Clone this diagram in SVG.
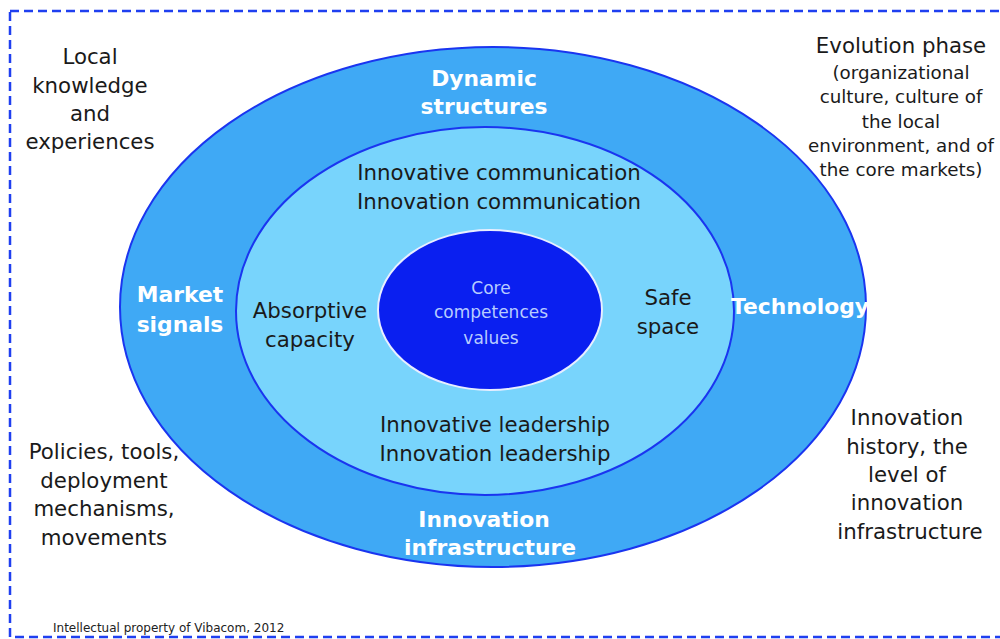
<svg xmlns="http://www.w3.org/2000/svg" width="1000" height="639" viewBox="0 0 1000 639">
<style>
.t{font-family:"DejaVu Sans",Verdana,sans-serif;font-size:21.3px;fill:#1a1a1a;text-anchor:middle}
.s{font-size:18.3px}
.w{font-family:"DejaVu Sans",Verdana,sans-serif;font-size:21.8px;font-weight:bold;fill:#ffffff;text-anchor:middle}
.c{font-family:"DejaVu Sans",Verdana,sans-serif;font-size:17px;fill:#b8ccff;text-anchor:middle}
</style>
<rect width="1000" height="639" fill="#ffffff"/>
<rect x="10" y="11" width="1010" height="626" fill="none" stroke="#1f3ff0" stroke-width="2.5" stroke-dasharray="9,5"/>
<g id="outer">
<ellipse cx="493" cy="307" rx="373" ry="260" fill="#3fa9f5" stroke="#1a35f0" stroke-width="2"/>
</g>
<g id="middle">
<ellipse cx="485" cy="311" rx="249" ry="184" fill="#78d4fc" stroke="#1a35f0" stroke-width="2"/>
</g>
<g id="core">
<ellipse cx="490" cy="310" rx="112" ry="80" fill="#0a1ff0" stroke="#e8eeff" stroke-width="2"/>
<text class="c"><tspan x="491" y="294">Core</tspan><tspan x="491" y="318">competences</tspan><tspan x="491" y="344">values</tspan></text>
</g>
<g id="dynamic"><text class="w"><tspan x="484" y="86">Dynamic</tspan><tspan x="484" y="114">structures</tspan></text></g>
<g id="market"><text class="w"><tspan x="180" y="302">Market</tspan><tspan x="180" y="332">signals</tspan></text></g>
<g id="technology"><text class="w" x="800" y="314">Technology</text></g>
<g id="infrastructure"><text class="w"><tspan x="484" y="527">Innovation</tspan><tspan x="490" y="555">infrastructure</tspan></text></g>
<g id="communication"><text class="t"><tspan x="499" y="180">Innovative communication</tspan><tspan x="499" y="209">Innovation communication</tspan></text></g>
<g id="absorptive"><text class="t"><tspan x="310" y="318">Absorptive</tspan><tspan x="310" y="347">capacity</tspan></text></g>
<g id="safe"><text class="t"><tspan x="668" y="305">Safe</tspan><tspan x="668" y="334">space</tspan></text></g>
<g id="leadership"><text class="t"><tspan x="495" y="432">Innovative leadership</tspan><tspan x="495" y="461">Innovation leadership</tspan></text></g>
<g id="local"><text class="t"><tspan x="90" y="64">Local</tspan><tspan x="90" y="93">knowledge</tspan><tspan x="90" y="121">and</tspan><tspan x="90" y="149">experiences</tspan></text></g>
<g id="evolution"><text class="t"><tspan x="901" y="53">Evolution phase</tspan></text>
<text class="t s"><tspan x="901" y="79">(organizational</tspan><tspan x="901" y="103">culture, culture of</tspan><tspan x="901" y="128">the local</tspan><tspan x="901" y="152">environment, and of</tspan><tspan x="901" y="176">the core markets)</tspan></text></g>
<g id="history"><text class="t"><tspan x="907" y="425">Innovation</tspan><tspan x="907" y="454">history, the</tspan><tspan x="907" y="482">level of</tspan><tspan x="907" y="510">innovation</tspan><tspan x="910" y="539">infrastructure</tspan></text></g>
<g id="policies"><text class="t"><tspan x="104" y="459">Policies, tools,</tspan><tspan x="104" y="488">deployment</tspan><tspan x="104" y="516">mechanisms,</tspan><tspan x="104" y="545">movements</tspan></text></g>
<text x="53" y="632" font-family="DejaVu Sans,Verdana,sans-serif" font-size="12" fill="#222">Intellectual property of Vibacom, 2012</text>
</svg>
